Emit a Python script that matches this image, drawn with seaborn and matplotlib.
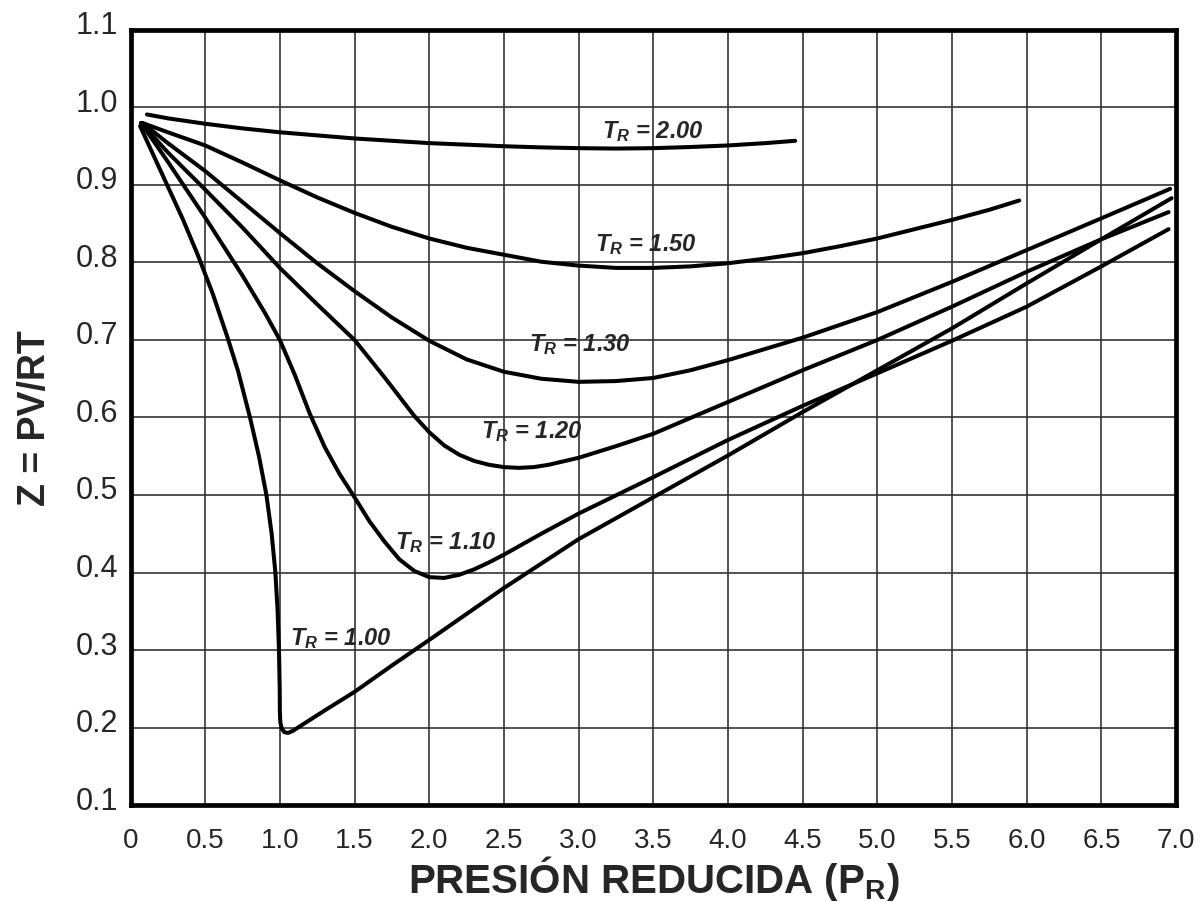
import numpy as np
import pandas as pd
import matplotlib
matplotlib.use("Agg")
import matplotlib.pyplot as plt
import matplotlib.transforms as mtransforms
import seaborn as sns

# Generalized compressibility chart: Z versus reduced pressure for several reduced temperatures
pr_200 = [0.11, 0.25, 0.5, 0.75, 1.0, 1.25, 1.5, 1.75, 2.0, 2.25, 2.5, 2.75, 3.0, 3.25, 3.5, 3.75, 4.0,
          4.25, 4.45]
z_200 = [0.991, 0.986, 0.979, 0.973, 0.968, 0.964, 0.960, 0.957, 0.954, 0.952, 0.950, 0.9485, 0.9475,
         0.947, 0.9475, 0.949, 0.951, 0.954, 0.957]

pr_150 = [0.08, 0.25, 0.5, 0.75, 1.0, 1.25, 1.5, 1.75, 2.0, 2.25, 2.5, 2.75, 3.0, 3.25, 3.5, 3.75, 4.0,
          4.25, 4.5, 4.75, 5.0, 5.25, 5.5, 5.75, 5.95]
z_150 = [0.980, 0.968, 0.951, 0.929, 0.906, 0.884, 0.864, 0.846, 0.831, 0.819, 0.810, 0.801, 0.796, 0.793,
         0.793, 0.795, 0.799, 0.805, 0.812, 0.821, 0.831, 0.843, 0.855, 0.868, 0.880]

pr_130 = [0.08, 0.25, 0.5, 0.75, 1.0, 1.25, 1.5, 1.75, 2.0, 2.25, 2.5, 2.75, 3.0, 3.25, 3.5, 3.75, 4.0,
          4.5, 5.0, 5.5, 6.0, 6.5, 6.96]
z_130 = [0.980, 0.954, 0.918, 0.878, 0.838, 0.799, 0.763, 0.729, 0.699, 0.675, 0.659, 0.650, 0.646, 0.647,
         0.651, 0.661, 0.674, 0.703, 0.736, 0.775, 0.816, 0.857, 0.895]

pr_120 = [0.07, 0.25, 0.5, 0.75, 1.0, 1.25, 1.5, 1.7, 1.9, 2.0, 2.1, 2.2, 2.3, 2.4, 2.5, 2.6, 2.7, 2.8,
          3.0, 3.25, 3.5, 4.0, 4.5, 5.0, 5.5, 6.0, 6.5, 6.95]
z_120 = [0.980, 0.942, 0.894, 0.845, 0.793, 0.746, 0.700, 0.652, 0.602, 0.581, 0.564, 0.552, 0.544, 0.539,
         0.536, 0.535, 0.536, 0.539, 0.548, 0.563, 0.579, 0.620, 0.661, 0.700, 0.743, 0.788, 0.830, 0.865]

pr_110 = [0.07, 0.25, 0.5, 0.75, 0.9, 1.0, 1.1, 1.2, 1.3, 1.4, 1.5, 1.6, 1.7, 1.8, 1.9, 2.0, 2.1, 2.2, 2.3,
          2.4, 2.5, 2.75, 3.0, 3.5, 4.0, 4.5, 5.0, 5.5, 6.0, 6.5, 6.95]
z_110 = [0.980, 0.930, 0.858, 0.783, 0.735, 0.700, 0.655, 0.605, 0.562, 0.527, 0.497, 0.466, 0.440, 0.417,
         0.402, 0.394, 0.393, 0.397, 0.404, 0.413, 0.423, 0.450, 0.476, 0.523, 0.571, 0.615, 0.657, 0.699,
         0.743, 0.795, 0.843]

pr_100 = [0.064, 0.15, 0.25, 0.35, 0.45, 0.55, 0.65, 0.72, 0.8, 0.86, 0.91, 0.945, 0.97, 0.985, 0.994,
          0.999, 1.0, 1.003, 1.012, 1.03, 1.055, 1.09, 1.13, 1.3, 1.5, 1.75, 2.0, 2.5, 3.0, 3.5, 4.0, 4.5,
          5.0, 5.5, 6.0, 6.5, 6.97]
z_100 = [0.976, 0.940, 0.898, 0.856, 0.810, 0.760, 0.703, 0.660, 0.600, 0.550, 0.500, 0.450, 0.400, 0.350,
         0.300, 0.250, 0.220, 0.207, 0.199, 0.194, 0.193, 0.196, 0.201, 0.222, 0.246, 0.280, 0.313, 0.380,
         0.443, 0.497, 0.551, 0.607, 0.661, 0.715, 0.773, 0.830, 0.883]

tr_names = ["2.00", "1.50", "1.30", "1.20", "1.10", "1.00"]
series_pr = [pr_200, pr_150, pr_130, pr_120, pr_110, pr_100]
series_z = [z_200, z_150, z_130, z_120, z_110, z_100]

# Curve label anchors (reduced pressure, Z at text baseline)
label_pr = [3.50, 3.45, 3.01, 2.69, 2.11, 1.41]
label_z = [0.962, 0.8165, 0.687, 0.575, 0.432, 0.308]

x_ticks = [0, 0.5, 1.0, 1.5, 2.0, 2.5, 3.0, 3.5, 4.0, 4.5, 5.0, 5.5, 6.0, 6.5, 7.0]
x_tick_labels = ["0", "0.5", "1.0", "1.5", "2.0", "2.5", "3.0", "3.5", "4.0", "4.5",
                 "5.0", "5.5", "6.0", "6.5", "7.0"]
y_ticks = [0.1, 0.2, 0.3, 0.4, 0.5, 0.6, 0.7, 0.8, 0.9, 1.0, 1.1]
y_tick_labels = ["0.1", "0.2", "0.3", "0.4", "0.5", "0.6", "0.7", "0.8", "0.9", "1.0", "1.1"]

frames = []
for name, xs, zs in zip(tr_names, series_pr, series_z):
    frames.append(pd.DataFrame({"Pr": xs, "Z": zs, "Tr": name}))
df = pd.concat(frames, ignore_index=True)

sns.set_theme(style="white")
plt.rcParams["font.family"] = ["Liberation Sans", "DejaVu Sans"]
plt.rcParams["mathtext.fontset"] = "custom"
plt.rcParams["mathtext.it"] = "Liberation Sans:bold:italic"
plt.rcParams["mathtext.rm"] = "Liberation Sans:bold"
plt.rcParams["mathtext.bf"] = "Liberation Sans:bold"

fig = plt.figure(figsize=(12, 9.03), dpi=100)
ax = fig.add_axes([0.10875, 0.1074, 0.8713, 0.8583])

sns.lineplot(data=df, x="Pr", y="Z", units="Tr", estimator=None, sort=False,
             color="black", linewidth=2.9, legend=False, ax=ax, zorder=3)

ax.set_xlim(0, 7)
ax.set_ylim(0.1, 1.1)
ax.set_xticks(x_ticks)
ax.set_xticklabels(x_tick_labels, fontsize=20)
ax.set_yticks(y_ticks)
ax.set_yticklabels(y_tick_labels, fontsize=22)
ax.tick_params(axis="both", length=0)
ax.tick_params(axis="x", pad=16)
ax.tick_params(axis="y", pad=9)

# y labels sit slightly above their gridlines
shift = mtransforms.ScaledTranslation(0, 8 / 100, fig.dpi_scale_trans)
for lab in ax.get_yticklabels():
    lab.set_transform(lab.get_transform() + shift)

ax.grid(True, color="#333333", linewidth=1.2)
ax.set_axisbelow(True)
for sp in ax.spines.values():
    sp.set_visible(True)
    sp.set_color("black")
    sp.set_linewidth(3.4)
    sp.set_zorder(5)

ax.set_xlabel(r"PRESIÓN REDUCIDA (P$_\mathrm{R}$)", fontsize=29, fontweight="bold", labelpad=0)
ax.set_ylabel("Z = PV/RT", fontsize=27, fontweight="bold", labelpad=16)

for name, lx, lz in zip(tr_names, label_pr, label_z):
    ax.text(lx, lz, r"$T_R$ = " + name, fontsize=17, fontweight="bold", style="italic",
            ha="center", va="baseline", zorder=4)

fig.savefig("out.png", dpi=100)
